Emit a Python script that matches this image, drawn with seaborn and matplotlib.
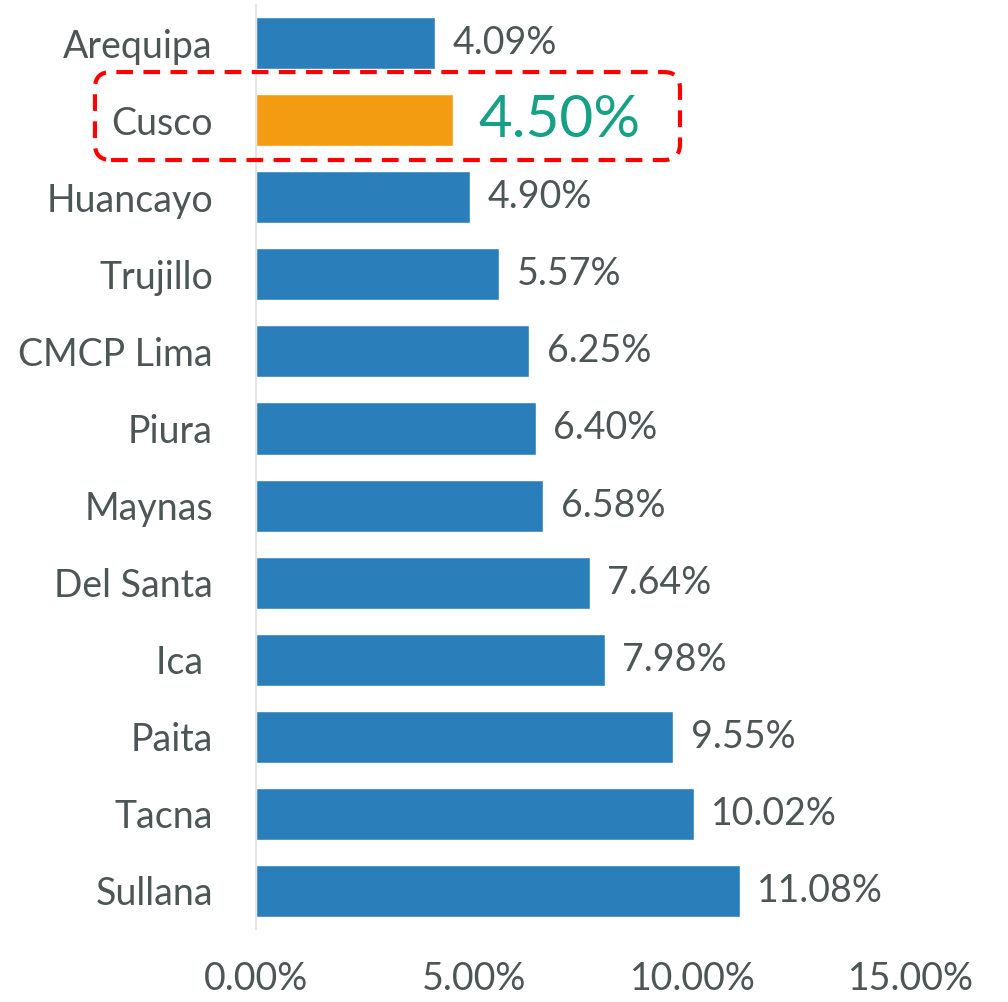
import matplotlib
matplotlib.use("Agg")
import matplotlib.pyplot as plt
import seaborn as sns
import pandas as pd
from matplotlib.patches import FancyBboxPatch

categories = ["Arequipa", "Cusco", "Huancayo", "Trujillo", "CMCP Lima", "Piura",
              "Maynas", "Del Santa", "Ica ", "Paita", "Tacna", "Sullana"]
values = [4.09, 4.50, 4.90, 5.57, 6.25, 6.40, 6.58, 7.64, 7.98, 9.55, 10.02, 11.08]
highlight = "Cusco"
x_ticks = [0, 5, 10, 15]

BLUE = "#2a7fba"
ORANGE = "#f39c12"
GREEN = "#16a085"
TEXT = "#4d5656"

sns.set_style("white")
plt.rcParams['font.family'] = ['Lato', 'DejaVu Sans']

df = pd.DataFrame({"cat": categories, "val": values})
palette = {c: (ORANGE if c == highlight else BLUE) for c in categories}

fig = plt.figure(figsize=(10.08, 10.02), dpi=100)
ax = fig.add_axes([0.254, 0.0724, 0.650, 0.923])
sns.barplot(data=df, y="cat", x="val", hue="cat", palette=palette, legend=False,
            orient="h", width=0.675, saturation=1, ax=ax)

ax.set_xlim(0, 15)
ax.set_ylim(len(categories) - 0.5, -0.5)
ax.set_xticks(x_ticks)
ax.set_xticklabels([f"{t:.2f}%" for t in x_ticks], fontsize=27, color=TEXT)
ax.tick_params(axis="x", length=0, pad=23)
ax.tick_params(axis="y", length=0, pad=31, labelsize=27, labelcolor=TEXT)
ax.set_xlabel("")
ax.set_ylabel("")
for s in ["top", "right", "bottom"]:
    ax.spines[s].set_visible(False)
ax.spines["left"].set_color("#e3e6e8")
ax.spines["left"].set_linewidth(1.5)

for i, (c, v) in enumerate(zip(categories, values)):
    if c == highlight:
        ax.text(v + 0.6, i, f"{v:.2f}%", va="center", ha="left", fontsize=42, color=GREEN)
    else:
        ax.text(v + 0.4, i, f"{v:.2f}%", va="center", ha="left", fontsize=27, color=TEXT)

box = FancyBboxPatch((0.0942, 0.8403), 0.6746 - 0.0942, 0.9281 - 0.8403,
                     boxstyle="round,pad=0,rounding_size=0.016",
                     transform=fig.transFigure, fill=False, edgecolor="#ff0000",
                     linewidth=3, linestyle=(0, (4, 2.5)), clip_on=False, zorder=5)
fig.patches.append(box)

fig.savefig("out.png", dpi=100)
